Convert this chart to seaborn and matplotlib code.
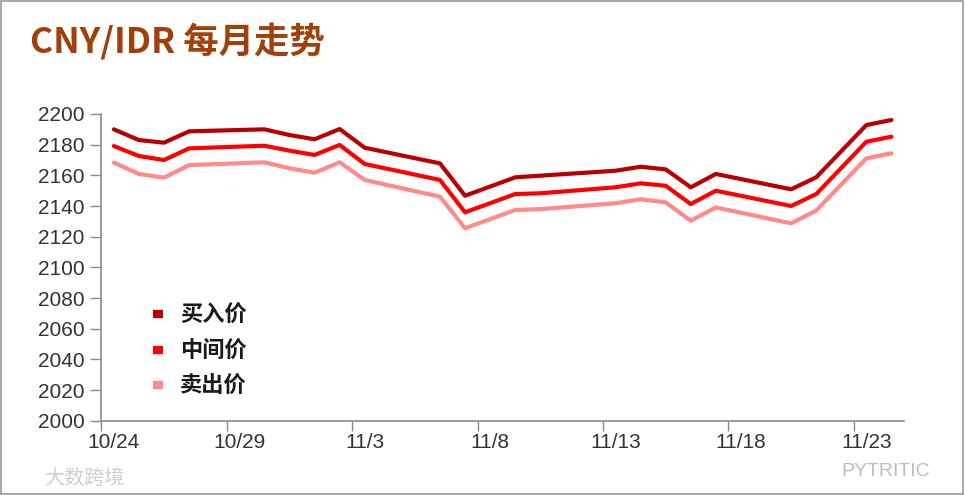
import matplotlib
matplotlib.use("Agg")
import matplotlib.pyplot as plt
import seaborn as sns
import pandas as pd
import numpy as np
from matplotlib.patches import Rectangle

# ---- data (CNY/IDR, 2023) ----
dates = ["10/24", "10/25", "10/26", "10/27", "10/30", "10/31", "11/1", "11/2", "11/3",
         "11/6", "11/7", "11/9", "11/10", "11/13", "11/14", "11/15", "11/16", "11/17",
         "11/20", "11/21", "11/23", "11/24"]
buy = [2190.0, 2183.0, 2181.3, 2188.7, 2190.0, 2186.3, 2183.5, 2190.2, 2178.0,
       2167.8, 2146.7, 2158.7, 2159.8, 2163.0, 2165.6, 2163.9, 2152.2, 2160.9,
       2150.9, 2158.7, 2192.8, 2196.1]
mid = [2179.1, 2172.6, 2170.0, 2177.6, 2179.3, 2176.1, 2173.3, 2179.8, 2167.4,
       2157.0, 2135.9, 2147.8, 2148.3, 2152.2, 2154.8, 2153.2, 2141.3, 2150.0,
       2140.0, 2147.8, 2181.9, 2185.2]
sell = [2168.3, 2160.9, 2158.5, 2166.7, 2168.5, 2164.6, 2161.7, 2168.5, 2157.0,
        2146.1, 2125.5, 2137.4, 2138.0, 2141.8, 2144.4, 2142.4, 2130.4, 2139.1,
        2128.7, 2137.0, 2171.1, 2174.4]
series_names = ["买入价", "中间价", "卖出价"]
tick_labels = ["10/24", "10/29", "11/3", "11/8", "11/13", "11/18", "11/23"]

start = pd.Timestamp("2023-10-24")
day_idx = [(pd.Timestamp("2023-" + d.replace("/", "-")) - start).days for d in dates]

df = pd.concat([
    pd.DataFrame({"day": day_idx, "value": vals, "series": name})
    for name, vals in zip(series_names, [buy, mid, sell])
])

sns.set_theme(style="white")
plt.rcParams["font.family"] = ["Liberation Sans", "Noto Sans CJK SC", "DejaVu Sans"]

fig = plt.figure(figsize=(9.65, 4.95), dpi=100)
ax = fig.add_axes([0.105, 0.150, 0.8318, 0.6197])

palette = {"买入价": "#B80000", "中间价": "#FF0000", "卖出价": "#FF8A8A"}
sns.lineplot(data=df, x="day", y="value", hue="series", hue_order=series_names,
             palette=palette, linewidth=3.0, ax=ax, legend=True)

ax.set_xlim(-0.5, 31.5)
ax.set_ylim(2000, 2200)
ax.set_yticks(np.arange(2000, 2201, 20))
ax.set_xlabel("")
ax.set_ylabel("")

# ticks at bin boundaries, labels at bin centres
tick_days = [(pd.Timestamp("2023-" + t.replace("/", "-")) - start).days for t in tick_labels]
ax.set_xticks([d - 0.5 for d in tick_days])
ax.set_xticklabels([""] * len(tick_days))
ax.set_xticks(tick_days, minor=True)
ax.set_xticklabels(tick_labels, minor=True)
ax.tick_params(axis="x", which="major", direction="out", length=7, width=1, color="#8c8c8c", bottom=True)
ax.tick_params(axis="x", which="minor", length=0, pad=9, labelsize=15, labelcolor="#333333")
ax.tick_params(axis="y", direction="out", length=8, width=1, color="#8c8c8c", left=True,
               labelsize=15, labelcolor="#333333", pad=4)

for s in ["top", "right"]:
    ax.spines[s].set_visible(False)
for s in ["left", "bottom"]:
    ax.spines[s].set_color("#8c8c8c")
    ax.spines[s].set_linewidth(1.2)
ax.grid(False)

leg = ax.legend(loc="upper left", bbox_to_anchor=(0.040, 0.445), frameon=False,
                handlelength=0.45, handletextpad=0.75, labelspacing=0.55,
                prop={"family": ["Noto Sans CJK SC"], "weight": "bold", "size": 16})
for line in leg.get_lines():
    line.set_linewidth(6)
    line.set_solid_capstyle("butt")
for t in leg.get_texts():
    t.set_color("#1a1a1a")

fig.text(0.031, 0.916, "CNY/IDR 每月走势", fontsize=25.5, fontweight="bold", color="#A0400A",
         family=["Noto Sans CJK SC"], va="center", ha="left")

# watermarks
fig.text(0.046, 0.034, "大数跨境", fontsize=14.5, color="#cfcfcf",
         family=["Noto Sans CJK SC"], va="center", ha="left")
fig.text(0.872, 0.048, "PYTRITIC", fontsize=14, color="#bdbdbd", va="center", ha="left")

# outer frame
fig.patches.append(Rectangle((0.001, 0.002), 0.997, 0.996, transform=fig.transFigure,
                             fill=False, edgecolor="#9a9a9a", linewidth=1.2))

fig.savefig("out.png", dpi=100, facecolor="white")
